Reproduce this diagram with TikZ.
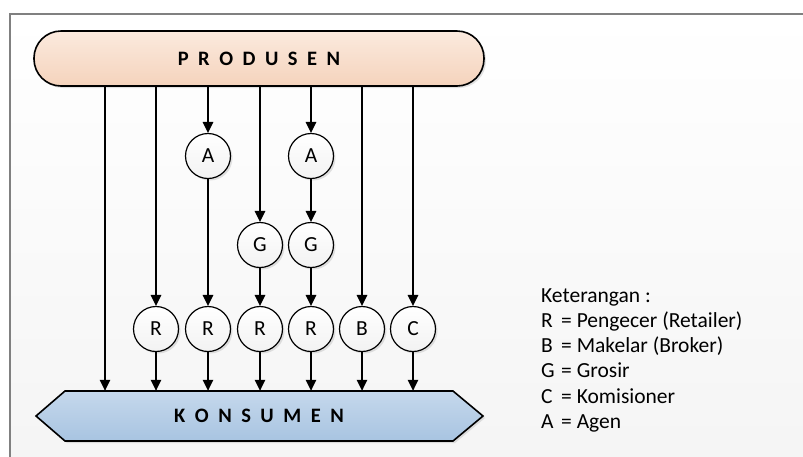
\documentclass[tikz,border=0pt]{standalone}
\usepackage{fontspec}
\setmainfont{Carlito}
\usetikzlibrary{arrows.meta,shadows}
\definecolor{prodtop}{HTML}{FBEADE}
\definecolor{prodbot}{HTML}{F5D3BC}
\definecolor{kontop}{HTML}{C5D8EC}
\definecolor{konbot}{HTML}{A8C4E1}
\definecolor{framec}{HTML}{808080}
\newcommand{\spc}{\hspace{9.5pt}}
\begin{document}
\begin{tikzpicture}[x=1pt,y=-1pt,
  conn/.style={line width=1.3pt, -{Triangle[length=11pt,width=10.5pt]}},
  shad/.style={drop shadow={shadow xshift=2pt, shadow yshift=-2pt, opacity=0.22}},
  circ/.style={circle, draw, line width=1.2pt, minimum size=45pt, inner sep=0pt,
    top color=white, bottom color=gray!10, shad, font=\fontsize{21.5}{26}\selectfont},
  legend/.style={anchor=base west, inner sep=0pt, font=\fontsize{21.5}{26}\selectfont}
]
\useasboundingbox (0,0) rectangle (803,456);
\fill[white] (0,0) rectangle (803,456);
\shade[top color=white, bottom color=gray!8] (10,14) rectangle (803,456);
\draw[framec, line width=1.5pt] (10,460) -- (10,14) -- (810,14);

\node[draw, line width=1.6pt, rounded corners=27pt, minimum width=450pt, minimum height=55pt,
  top color=prodtop, bottom color=prodbot, shad,
  font=\bfseries\fontsize{20.5}{24}\selectfont] (P) at (259,58.5)
  {P\spc R\spc O\spc D\spc U\spc S\spc E\spc N};

\path[draw, line width=1.6pt, top color=kontop, bottom color=konbot, shad]
  (36,416) -- (65,391) -- (453,391) -- (483,416) -- (453,441) -- (65,441) -- cycle;
\node[minimum width=388pt, minimum height=50pt, inner sep=0pt,
  font=\bfseries\fontsize{20.5}{24}\selectfont] (K) at (259,416)
  {K\spc O\spc N\spc S\spc U\spc M\spc E\spc N};

\node[circ] (A1) at (208,156) {A};
\node[circ] (A2) at (311,156) {A};
\node[circ] (G1) at (260,245) {G};
\node[circ] (G2) at (311,245) {G};
\node[circ] (R1) at (156,329) {R};
\node[circ] (R2) at (208,329) {R};
\node[circ] (R3) at (260,329) {R};
\node[circ] (R4) at (311,329) {R};
\node[circ] (B) at (362,329) {B};
\node[circ] (C) at (413,329) {C};
\coordinate (x0) at (105,0);

\draw[conn] (P.south -| x0) -- (K.north -| x0);
\draw[conn] (P.south -| R1) -- (R1);
\draw[conn] (R1) -- (K.north -| R1);
\draw[conn] (P.south -| A1) -- (A1);
\draw[conn] (A1) -- (R2);
\draw[conn] (R2) -- (K.north -| R2);
\draw[conn] (P.south -| G1) -- (G1);
\draw[conn] (G1) -- (R3);
\draw[conn] (R3) -- (K.north -| R3);
\draw[conn] (P.south -| A2) -- (A2);
\draw[conn] (A2) -- (G2);
\draw[conn] (G2) -- (R4);
\draw[conn] (R4) -- (K.north -| R4);
\draw[conn] (P.south -| B) -- (B);
\draw[conn] (B) -- (K.north -| B);
\draw[conn] (P.south -| C) -- (C);
\draw[conn] (C) -- (K.north -| C);

\node[legend] (L0) at (541,302) {Keterangan :};
\node[legend] (L1) at (541,327) {\makebox[20pt][l]{R}= Pengecer (Retailer)};
\node[legend] (L2) at (541,352) {\makebox[20pt][l]{B}= Makelar (Broker)};
\node[legend] (L3) at (541,377) {\makebox[20pt][l]{G}= Grosir};
\node[legend] (L4) at (541,403) {\makebox[20pt][l]{C}= Komisioner};
\node[legend] (L5) at (541,428) {\makebox[20pt][l]{A}= Agen};
\end{tikzpicture}
\end{document}
